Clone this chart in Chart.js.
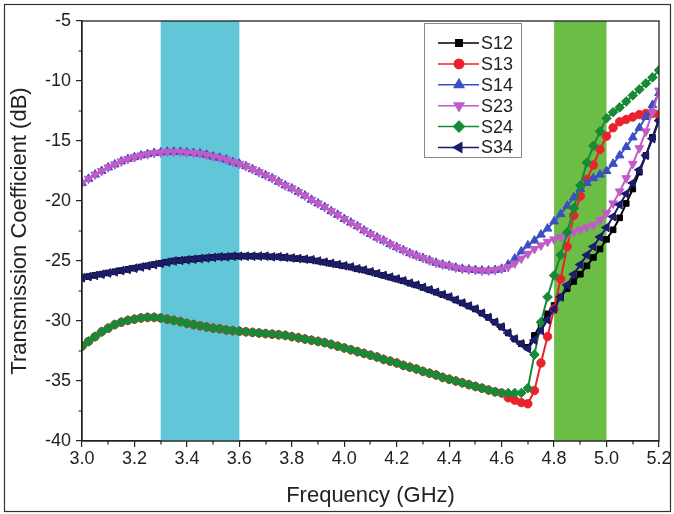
<!DOCTYPE html>
<html>
<head>
<meta charset="utf-8">
<script src="https://cdn.jsdelivr.net/npm/chart.js@4"></script>
<style>
  html, body { margin: 0; padding: 0; background: #fff; }
  #wrap { width: 674px; height: 514px; }
</style>
</head>
<body>
<div id="wrap"><canvas id="chart" width="674" height="514"></canvas></div>
<script>
// Frequency grid, GHz (0.025 step)
const freqs = [
  3.000, 3.025, 3.050, 3.075, 3.100, 3.125, 3.150, 3.175,
  3.200, 3.225, 3.250, 3.275, 3.300, 3.325, 3.350, 3.375,
  3.400, 3.425, 3.450, 3.475, 3.500, 3.525, 3.550, 3.575,
  3.600, 3.625, 3.650, 3.675, 3.700, 3.725, 3.750, 3.775,
  3.800, 3.825, 3.850, 3.875, 3.900, 3.925, 3.950, 3.975,
  4.000, 4.025, 4.050, 4.075, 4.100, 4.125, 4.150, 4.175,
  4.200, 4.225, 4.250, 4.275, 4.300, 4.325, 4.350, 4.375,
  4.400, 4.425, 4.450, 4.475, 4.500, 4.525, 4.550, 4.575,
  4.600, 4.625, 4.650, 4.675, 4.700, 4.725, 4.750, 4.775,
  4.800, 4.825, 4.850, 4.875, 4.900, 4.925, 4.950, 4.975,
  5.000, 5.025, 5.050, 5.075, 5.100, 5.125, 5.150, 5.175,
  5.200,
]

// 3.000 - 4.600 GHz: the pairs of ports overlap here
const upperLeft = [
  -18.5, -18.15, -17.8, -17.5, -17.2, -16.95, -16.7, -16.5,
  -16.35, -16.2, -16.1, -16.0, -15.95, -15.9, -15.9, -15.9,
  -15.95, -16.0, -16.05, -16.15, -16.3, -16.4, -16.55, -16.75,
  -16.9, -17.1, -17.35, -17.6, -17.85, -18.1, -18.4, -18.7,
  -18.95, -19.25, -19.55, -19.9, -20.2, -20.5, -20.85, -21.15,
  -21.5, -21.8, -22.1, -22.45, -22.75, -23.05, -23.3, -23.6,
  -23.85, -24.1, -24.35, -24.55, -24.75, -24.95, -25.15, -25.3,
  -25.4, -25.55, -25.65, -25.7, -25.75, -25.8, -25.8, -25.75,
  -25.65,
]
const middleLeft = [
  -26.4, -26.3, -26.2, -26.1, -26.0, -25.9, -25.8, -25.7,
  -25.6, -25.5, -25.4, -25.3, -25.2, -25.1, -25.0, -24.95,
  -24.9, -24.85, -24.8, -24.75, -24.7, -24.65, -24.65, -24.6,
  -24.6, -24.6, -24.6, -24.6, -24.6, -24.65, -24.65, -24.7,
  -24.75, -24.8, -24.85, -24.9, -25.0, -25.1, -25.2, -25.3,
  -25.4, -25.5, -25.65, -25.75, -25.9, -26.05, -26.2, -26.35,
  -26.5, -26.65, -26.85, -27.0, -27.2, -27.4, -27.6, -27.8,
  -28.0, -28.25, -28.5, -28.75, -29.0, -29.35, -29.7, -30.1,
  -30.5,
]
const lowerLeft = [
  -32.1, -31.7, -31.3, -30.9, -30.6, -30.3, -30.1, -29.95,
  -29.85, -29.75, -29.7, -29.7, -29.75, -29.85, -29.95, -30.05,
  -30.2, -30.3, -30.4, -30.5, -30.6, -30.65, -30.75, -30.8,
  -30.85, -30.9, -30.95, -31.0, -31.05, -31.1, -31.15, -31.2,
  -31.3, -31.4, -31.5, -31.6, -31.7, -31.8, -31.95, -32.1,
  -32.25, -32.4, -32.55, -32.7, -32.85, -33.0, -33.2, -33.35,
  -33.5, -33.7, -33.85, -34.0, -34.2, -34.35, -34.5, -34.7,
  -34.85, -35.0, -35.15, -35.3, -35.45, -35.6, -35.75, -35.9,
  -36.0,
]

// 4.625 - 5.200 GHz, per port pair
const s12Tail = [-31.0, -31.5, -31.9, -32.2, -31.2, -30.2, -29.4, -28.7, -28.0, -27.3, -26.7, -26.1,
  -25.4, -24.7, -24.0, -23.2, -22.4, -21.4, -20.2, -19.0, -17.6, -16.2, -14.7, -13.2]
const s13Tail = [-36.4, -36.6, -36.8, -36.9, -35.8, -33.5, -31.3, -29.0, -26.5, -23.8, -21.2, -19.6,
  -18.2, -17.0, -15.7, -14.6, -13.9, -13.4, -13.2, -13.0, -12.8, -12.7, -12.7, -12.8]
const s14Tail = [-25.3, -24.8, -24.2, -23.7, -23.3, -22.8, -22.3, -21.7, -21.1, -20.4, -19.7, -19.0,
  -18.5, -18.1, -17.8, -17.5, -16.9, -16.2, -15.5, -14.7, -13.9, -13.0, -12.0, -11.0]
const s23Tail = [-25.5, -25.2, -24.8, -24.4, -24.0, -23.7, -23.4, -23.2, -23.0, -22.8, -22.6, -22.4,
  -22.2, -22.0, -21.6, -21.0, -20.2, -19.2, -18.1, -16.9, -15.6, -14.2, -12.6, -10.8]
const s24Tail = [-36.0, -36.0, -36.0, -35.6, -32.8, -30.1, -28.0, -26.2, -24.5, -22.6, -20.6, -18.7,
  -16.8, -15.4, -14.2, -13.1, -12.6, -12.2, -11.7, -11.2, -10.7, -10.2, -9.7, -9.1]
const s34Tail = [-31.0, -31.5, -31.9, -32.3, -31.6, -30.8, -29.9, -29.0, -28.0, -27.0, -26.1, -25.3,
  -24.5, -23.8, -23.0, -22.2, -21.3, -20.3, -19.4, -18.5, -17.4, -16.2, -14.8, -13.3]

const yTicks = [-40, -35, -30, -25, -20, -15, -10, -5]
const xTicks = [3.0, 3.2, 3.4, 3.6, 3.8, 4.0, 4.2, 4.4, 4.6, 4.8, 5.0, 5.2]

// operating bands, GHz
const bands = [
  { from: 3.3, to: 3.6, color: '#62c6d9' },
  { from: 4.8, to: 5.0, color: '#6bbd46' },
]

const FONT = '"Liberation Sans", Arial, sans-serif'

function series(label, values, color, pointStyle, rotation, radius, order) {
  return {
    label,
    data: freqs.map((f, i) => ({ x: f, y: values[i] })),
    borderColor: color,
    backgroundColor: color,
    pointBackgroundColor: color,
    pointBorderColor: color,
    pointStyle,
    pointRotation: rotation,
    pointRadius: radius,
    pointBorderWidth: 1,
    borderWidth: 2,
    tension: 0,
    order,
  }
}

const datasets = [
  series('S12', middleLeft.concat(s12Tail), '#000000', 'rect', 0, 4, 6),
  series('S13', lowerLeft.concat(s13Tail), '#e8232b', 'circle', 0, 4.2, 5),
  series('S14', upperLeft.concat(s14Tail), '#3a4fc2', 'triangle', 0, 5, 4),
  series('S23', upperLeft.concat(s23Tail), '#c05cc8', 'triangle', 180, 5, 3),
  series('S24', lowerLeft.concat(s24Tail), '#178a38', 'rectRot', 0, 4.8, 2),
  series('S34', middleLeft.concat(s34Tail), '#1d1b6b', 'triangle', -90, 5, 1),
]

const bandPlugin = {
  id: 'bands',
  beforeDatasetsDraw(chart) {
    const { ctx, chartArea, scales } = chart
    ctx.save()
    bands.forEach(b => {
      const x1 = scales.x.getPixelForValue(b.from)
      const x2 = scales.x.getPixelForValue(b.to)
      ctx.fillStyle = b.color
      ctx.fillRect(x1, chartArea.top, x2 - x1, chartArea.bottom - chartArea.top)
    })
    ctx.restore()
  },
}

// box round the plot, minor ticks, legend and the outer frame
const framePlugin = {
  id: 'frame',
  afterDraw(chart) {
    const { ctx, chartArea, scales } = chart
    const { left, right, top, bottom } = chartArea
    ctx.save()
    ctx.strokeStyle = '#222'
    ctx.lineWidth = 1.3
    ctx.strokeRect(left, top, right - left, bottom - top)

    ctx.lineWidth = 1.2
    ctx.beginPath()
    for (let i = 0; i < yTicks.length - 1; i++) {
      const y = Math.round(scales.y.getPixelForValue((yTicks[i] + yTicks[i + 1]) / 2))
      ctx.moveTo(left, y)
      ctx.lineTo(left - 3.5, y)
    }
    for (let i = 0; i < xTicks.length - 1; i++) {
      const x = Math.round(scales.x.getPixelForValue((xTicks[i] + xTicks[i + 1]) / 2))
      ctx.moveTo(x, bottom)
      ctx.lineTo(x, bottom + 3.5)
    }
    ctx.stroke()

    // legend
    const lx = 424, ly = 23, lw = 97, lh = 134
    ctx.fillStyle = '#fff'
    ctx.fillRect(lx, ly, lw, lh)
    ctx.strokeStyle = '#888'
    ctx.lineWidth = 1
    ctx.strokeRect(lx + 0.5, ly + 0.5, lw, lh)
    ctx.font = '18px ' + FONT
    ctx.textBaseline = 'middle'
    chart.data.datasets.forEach((ds, i) => {
      const y = ly + 20 + i * 20.9
      ctx.strokeStyle = ds.borderColor
      ctx.lineWidth = 1.5
      ctx.beginPath()
      ctx.moveTo(lx + 14, y)
      ctx.lineTo(lx + 55, y)
      ctx.stroke()
      ctx.fillStyle = ds.pointBackgroundColor
      Chart.helpers.drawPoint(ctx, {
        pointStyle: ds.pointStyle,
        rotation: ds.pointRotation,
        radius: ds.pointRadius + 0.5,
        borderWidth: 1,
      }, lx + 35, y)
      ctx.fillStyle = '#222'
      ctx.fillText(ds.label, lx + 57, y + 1)
    })

    ctx.strokeStyle = '#333'
    ctx.lineWidth = 1.2
    ctx.strokeRect(4.5, 4.5, 666, 507)
    ctx.restore()
  },
}

new Chart(document.getElementById('chart'), {
  type: 'line',
  data: { datasets },
  options: {
    responsive: false,
    animation: false,
    devicePixelRatio: 1,
    layout: { padding: { left: 0, top: 21, right: 15, bottom: 0 } },
    plugins: {
      legend: { display: false },
      tooltip: { enabled: false },
    },
    scales: {
      x: {
        type: 'linear',
        min: 3.0,
        max: 5.2,
        afterFit: s => { s.height = 73 },
        afterBuildTicks: s => { s.ticks = xTicks.map(v => ({ value: v })) },
        ticks: {
          color: '#222',
          font: { family: FONT, size: 18 },
          padding: 1,
          maxRotation: 0,
          callback: v => Number(v).toFixed(1),
        },
        grid: { drawOnChartArea: false, drawTicks: true, tickLength: 6, color: '#222', lineWidth: 1.2 },
        border: { display: true, color: '#222', width: 1.3 },
        title: {
          display: true,
          text: 'Frequency (GHz)',
          color: '#222',
          font: { family: FONT, size: 22 },
          padding: { top: 5, bottom: 5 },
        },
      },
      y: {
        min: -40,
        max: -5,
        afterFit: s => { s.width = 82 },
        afterBuildTicks: s => { s.ticks = yTicks.map(v => ({ value: v })) },
        ticks: {
          color: '#222',
          font: { family: FONT, size: 18 },
          padding: 5,
        },
        grid: { drawOnChartArea: false, drawTicks: true, tickLength: 6, color: '#222', lineWidth: 1.2 },
        border: { display: true, color: '#222', width: 1.3 },
        title: {
          display: true,
          text: 'Transmission Coefficient (dB)',
          color: '#222',
          font: { family: FONT, size: 22 },
          padding: { top: 7, bottom: 0 },
        },
      },
    },
  },
  plugins: [bandPlugin, framePlugin],
})
</script>
</body>
</html>
